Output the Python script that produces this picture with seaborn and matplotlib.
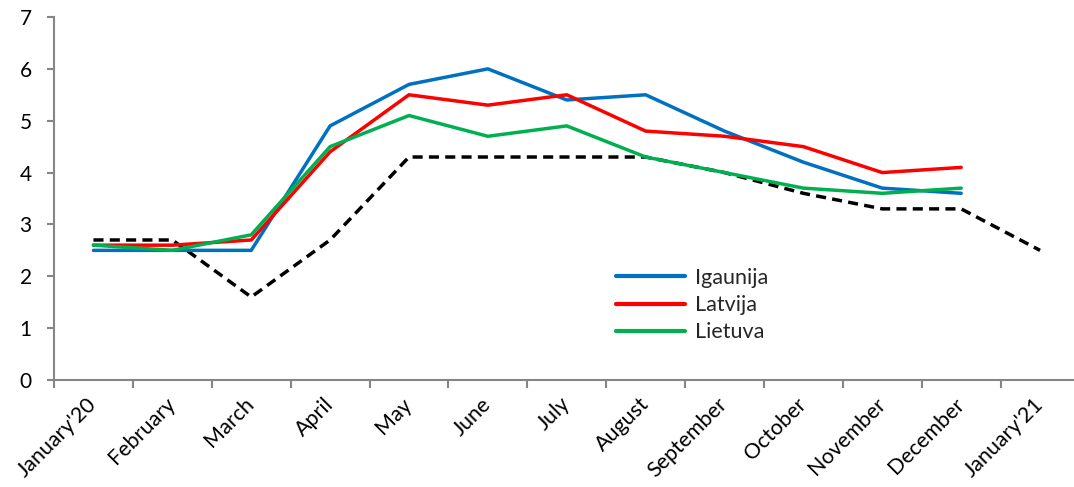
import matplotlib
matplotlib.use("Agg")
import matplotlib.pyplot as plt
import seaborn as sns
import numpy as np

months = ["January'20", "February", "March", "April", "May", "June", "July",
          "August", "September", "October", "November", "December", "January'21"]

igaunija = [2.5, 2.5, 2.5, 4.9, 5.7, 6.0, 5.4, 5.5, 4.8, 4.2, 3.7, 3.6]
latvija = [2.6, 2.6, 2.7, 4.4, 5.5, 5.3, 5.5, 4.8, 4.7, 4.5, 4.0, 4.1]
lietuva = [2.6, 2.5, 2.8, 4.5, 5.1, 4.7, 4.9, 4.3, 4.0, 3.7, 3.6, 3.7]
dashed = [2.7, 2.7, 1.6, 2.7, 4.3, 4.3, 4.3, 4.3, 4.0, 3.6, 3.3, 3.3, 2.5]

sns.set_theme(style="white")
plt.rcParams['font.family'] = ['Lato', 'DejaVu Sans']

fig = plt.figure(figsize=(10.74, 4.87), dpi=100)
W, H = 1074, 487
left, right, top, bottom = 54, 1079.5, 17, 380
ax = fig.add_axes([left / W, 1 - bottom / H, (right - left) / W, (bottom - top) / H])

axis_color = "#868686"
lw = 2.5

sns.lineplot(x=np.arange(len(dashed)), y=dashed, ax=ax, color="black",
             linewidth=lw, linestyle=(0, (2.9, 1.8)), legend=False)
sns.lineplot(x=np.arange(len(igaunija)), y=igaunija, ax=ax, color="#0070C0",
             linewidth=lw, label="Igaunija")
sns.lineplot(x=np.arange(len(latvija)), y=latvija, ax=ax, color="#FF0000",
             linewidth=lw, label="Latvija")
sns.lineplot(x=np.arange(len(lietuva)), y=lietuva, ax=ax, color="#00B050",
             linewidth=lw, label="Lietuva")

ax.set_xlim(-0.5, len(months) - 0.5)
ax.set_ylim(0, 7)
ax.set_yticks(range(0, 8))
ax.set_xticks(np.arange(len(months)))
ax.set_xticklabels(months, rotation=45, ha="right", va="center",
                   rotation_mode="anchor", fontsize=15.5)
ax.set_xticks(np.arange(len(months)) - 0.5, minor=True)
ax.tick_params(axis="x", which="major", length=0, pad=15)
ax.tick_params(axis="x", which="minor", length=6, width=1.5, color=axis_color,
               direction="out", bottom=True)
ax.tick_params(axis="y", length=5, width=1.5, color=axis_color, direction="out",
               left=True, labelsize=15, pad=11)
ax.set_xlabel("")
ax.set_ylabel("")

for side in ["top", "right"]:
    ax.spines[side].set_visible(False)
for side in ["left", "bottom"]:
    ax.spines[side].set_color(axis_color)
    ax.spines[side].set_linewidth(1.5)

for lbl in ax.get_xticklabels() + ax.get_yticklabels():
    lbl.set_color("black")

leg = ax.legend(loc="upper left",
                bbox_to_anchor=((616 - left) / (right - left), (bottom - 268) / (bottom - top)),
                frameon=False, fontsize=15.5, handlelength=3.2, handletextpad=0.45,
                labelspacing=0.33, borderaxespad=0, borderpad=0)
for line in leg.get_lines():
    line.set_linewidth(3)

fig.savefig("out.png", dpi=100)
